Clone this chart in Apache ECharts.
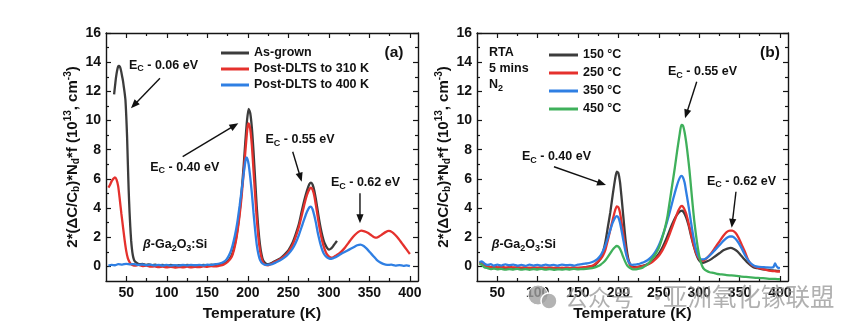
<!DOCTYPE html>
<html><head><meta charset="utf-8">
<script src="https://cdn.jsdelivr.net/npm/echarts@6/dist/echarts.min.js"></script>
<style>html,body{margin:0;padding:0;background:#fff}#c{width:865px;height:331px}</style>
</head><body><div id="c"></div>
<script>
// ---------- tick labels ----------
const xMajorTicks = [50,100,150,200,250,300,350,400];
const xMinorTicks = [75,125,175,225,275,325,375];
const yMajorTicks = [0,2,4,6,8,10,12,14,16];
const yMinorTicks = [1,3,5,7,9,11,13,15];

// ---------- panel (a) series names ----------
const namesA = ['As-grown','Post-DLTS to 310 K','Post-DLTS to 400 K'];
// ---------- panel (b) series names ----------
const namesB = ['150 °C','250 °C','350 °C','450 °C'];

// ---------- panel (a) data: [T (K), signal] ----------
const asGrown = [[35,11.8],[36,12.3],[37,12.8],[38,13.2],[39,13.5],[40,13.7],[41,13.75],[42,13.7],[43,13.55],[44,13.3],[45,13.0],[46,12.7],[47,12.3],[48,11.9],[49,11.4],[50,10.3],[51,8.9],[52,7.0],[53,5.2],[54,3.8],[55,2.7],[56,1.8],[57,1.2],[58,0.8],[59,0.55],[60,0.4],[62,0.28],[64,0.2],[67,0.15],[70,0.18],[74,0.1],[78,0.14],[82,0.08],[86,0.12],[90,0.06],[95,0.1],[100,0.05],[105,0.1],[110,0.04],[115,0.08],[120,0.05],[125,0.1],[130,0.06],[135,0.09],[140,0.05],[145,0.1],[150,0.07],[155,0.12],[160,0.1],[165,0.15],[170,0.2],[175,0.35],[180,0.75],[183,1.3],[186,2.1],[189,3.3],[192,4.9],[195,7.0],[197,8.6],[199,10.0],[201,10.8],[203,10.5],[205,9.5],[207,7.9],[209,6.0],[211,4.1],[213,2.6],[215,1.5],[217,0.8],[219,0.4],[222,0.2],[225,0.15],[230,0.25],[235,0.4],[240,0.55],[245,0.8],[250,1.1],[255,1.6],[259,2.2],[263,2.9],[267,3.9],[270,4.6],[273,5.2],[276,5.65],[278,5.75],[280,5.6],[282,5.2],[284,4.6],[286,3.9],[288,3.2],[290,2.6],[292,2.1],[294,1.7],[296,1.45],[298,1.25],[300,1.15],[302,1.2],[304,1.3],[306,1.45],[308,1.6],[310,1.75]];
const postDlts310 = [[28,5.4],[30,5.6],[32,5.85],[34,6.0],[36,6.1],[38,5.95],[40,5.5],[42,4.6],[44,3.6],[46,2.7],[48,1.8],[50,1.05],[52,0.55],[54,0.3],[56,0.15],[58,0.08],[61,0.05],[65,0.1],[70,0.02],[75,0.06],[80,-0.02],[85,0.0],[90,-0.05],[95,-0.02],[100,-0.06],[105,-0.03],[110,-0.08],[115,-0.04],[120,-0.07],[125,-0.02],[130,-0.06],[135,-0.03],[140,-0.05],[145,0.0],[150,-0.03],[155,0.02],[160,0.0],[165,0.05],[170,0.12],[175,0.3],[180,0.65],[183,1.15],[186,1.95],[189,3.1],[192,4.6],[195,6.5],[197,7.9],[199,9.2],[200,9.7],[201,9.8],[203,9.4],[205,8.3],[207,6.6],[209,4.9],[211,3.3],[213,2.0],[215,1.1],[217,0.55],[219,0.25],[222,0.1],[225,0.08],[230,0.2],[235,0.35],[240,0.5],[245,0.7],[250,1.0],[255,1.45],[259,2.0],[263,2.7],[267,3.6],[270,4.3],[273,4.9],[276,5.3],[278,5.4],[280,5.25],[282,4.85],[284,4.2],[286,3.5],[288,2.8],[290,2.2],[292,1.7],[294,1.3],[296,1.0],[298,0.8],[300,0.68],[303,0.6],[306,0.65],[309,0.75],[312,0.85],[316,1.05],[320,1.3],[324,1.6],[328,1.9],[332,2.15],[336,2.35],[340,2.45],[344,2.4],[348,2.3],[352,2.15],[356,2.0],[359,1.97],[362,2.05],[366,2.2],[370,2.35],[374,2.43],[378,2.35],[382,2.15],[386,1.9],[390,1.6],[394,1.3],[398,1.0],[400,0.85]];
const postDlts400 = [[28,0.05],[32,0.1],[36,0.08],[40,0.15],[45,0.12],[50,0.18],[55,0.14],[60,0.16],[65,0.1],[70,0.13],[75,0.08],[80,0.12],[85,0.07],[90,0.1],[95,0.06],[100,0.1],[105,0.05],[110,0.09],[115,0.06],[120,0.1],[125,0.07],[130,0.11],[135,0.08],[140,0.1],[145,0.07],[150,0.12],[155,0.1],[160,0.15],[165,0.2],[170,0.3],[174,0.5],[178,0.9],[181,1.4],[184,2.1],[187,3.0],[190,4.2],[193,5.5],[195,6.4],[197,7.2],[198,7.45],[199,7.45],[201,7.0],[203,6.1],[205,5.0],[207,3.7],[209,2.5],[211,1.5],[213,0.85],[215,0.45],[218,0.2],[222,0.1],[226,0.12],[230,0.15],[235,0.28],[240,0.42],[245,0.6],[250,0.85],[255,1.2],[259,1.6],[263,2.15],[267,2.8],[270,3.3],[273,3.75],[276,4.05],[278,4.1],[280,3.9],[282,3.5],[284,3.0],[286,2.4],[288,1.9],[290,1.45],[292,1.1],[294,0.85],[297,0.65],[300,0.55],[303,0.52],[306,0.58],[310,0.68],[315,0.85],[320,1.0],[325,1.15],[330,1.3],[335,1.45],[339,1.5],[343,1.4],[347,1.2],[351,0.95],[355,0.7],[359,0.45],[363,0.28],[367,0.17],[372,0.1],[377,0.12],[382,0.06],[387,0.09],[392,0.04],[396,0.07],[400,0.02]];

// ---------- panel (b) data: [T (K), signal] ----------
const rta150 = [[28,0.25],[31,0.3],[34,0.15],[38,0.0],[42,-0.05],[46,-0.1],[50,-0.08],[55,-0.12],[60,-0.1],[65,-0.14],[70,-0.1],[75,-0.15],[80,-0.12],[85,-0.15],[90,-0.1],[95,-0.14],[100,-0.12],[105,-0.15],[110,-0.1],[115,-0.14],[120,-0.12],[125,-0.15],[130,-0.11],[135,-0.14],[140,-0.12],[145,-0.15],[150,-0.1],[155,-0.12],[160,-0.05],[165,0.0],[170,0.05],[174,0.25],[178,0.55],[181,1.0],[184,1.7],[187,2.7],[190,3.7],[193,4.9],[196,6.0],[198,6.5],[200,6.4],[202,5.8],[204,4.7],[206,3.5],[208,2.3],[210,1.3],[212,0.6],[214,0.2],[216,0.0],[219,-0.05],[223,-0.05],[227,0.0],[231,0.05],[235,0.12],[239,0.25],[243,0.42],[247,0.65],[251,0.95],[255,1.35],[259,1.85],[263,2.4],[267,2.95],[271,3.4],[274,3.65],[277,3.8],[279,3.82],[281,3.7],[284,3.35],[287,2.8],[290,2.1],[293,1.45],[296,0.9],[299,0.5],[302,0.3],[305,0.25],[310,0.35],[315,0.5],[320,0.7],[325,0.9],[330,1.1],[335,1.22],[339,1.27],[343,1.2],[347,1.05],[351,0.8],[355,0.55],[359,0.3],[363,0.1],[367,-0.05],[372,-0.12],[377,-0.18],[382,-0.22],[387,-0.25],[392,-0.28],[396,-0.3],[400,-0.32]];
const rta250 = [[28,0.2],[31,0.25],[34,0.1],[38,0.0],[42,-0.05],[46,-0.02],[50,-0.06],[55,-0.03],[60,-0.08],[65,-0.04],[70,-0.07],[75,-0.05],[80,-0.09],[85,-0.06],[90,-0.1],[95,-0.07],[100,-0.09],[105,-0.06],[110,-0.1],[115,-0.07],[120,-0.1],[125,-0.08],[130,-0.11],[135,-0.08],[140,-0.1],[145,-0.07],[150,-0.1],[155,-0.06],[160,-0.05],[165,0.0],[170,0.12],[174,0.3],[178,0.5],[181,0.75],[184,1.15],[187,1.8],[190,2.5],[193,3.2],[196,3.85],[198,4.12],[200,4.05],[202,3.7],[204,3.0],[206,2.3],[208,1.55],[210,0.9],[212,0.45],[214,0.15],[216,0.0],[219,-0.08],[223,-0.05],[227,-0.02],[231,0.03],[235,0.1],[239,0.2],[243,0.35],[247,0.55],[251,0.8],[255,1.15],[259,1.6],[263,2.15],[267,2.75],[271,3.35],[274,3.8],[277,4.1],[279,4.15],[281,4.0],[284,3.6],[287,2.95],[290,2.2],[293,1.5],[296,0.95],[299,0.6],[302,0.42],[305,0.4],[310,0.6],[315,0.9],[320,1.3],[325,1.7],[330,2.1],[334,2.35],[338,2.45],[341,2.45],[345,2.3],[349,1.95],[353,1.45],[357,0.95],[361,0.4],[365,0.1],[369,-0.02],[374,-0.12],[379,-0.18],[384,-0.25],[389,-0.3],[394,-0.33],[398,-0.35],[400,-0.35]];
const rta350 = [[28,0.3],[31,0.35],[34,0.2],[38,0.1],[42,0.15],[46,0.05],[50,0.12],[55,0.06],[60,0.14],[65,0.08],[70,0.12],[75,0.05],[80,0.1],[85,0.04],[90,0.12],[95,0.06],[100,0.1],[105,0.05],[110,0.12],[115,0.07],[120,0.1],[125,0.05],[130,0.12],[135,0.08],[140,0.1],[145,0.06],[150,0.12],[155,0.15],[160,0.2],[165,0.25],[170,0.35],[174,0.5],[178,0.75],[181,1.05],[184,1.45],[187,1.95],[190,2.5],[193,3.0],[196,3.35],[198,3.45],[200,3.35],[202,3.0],[204,2.45],[206,1.85],[208,1.25],[210,0.75],[212,0.4],[214,0.2],[217,0.1],[220,0.12],[224,0.15],[228,0.22],[232,0.3],[236,0.42],[240,0.6],[244,0.85],[248,1.2],[252,1.7],[256,2.3],[260,3.0],[264,3.8],[268,4.65],[272,5.45],[275,5.95],[278,6.2],[280,6.1],[282,5.75],[284,5.1],[287,4.1],[290,3.0],[293,2.0],[296,1.2],[299,0.7],[302,0.5],[305,0.48],[310,0.6],[315,0.85],[320,1.15],[325,1.45],[330,1.75],[334,1.95],[338,2.05],[341,2.05],[345,1.9],[349,1.6],[353,1.2],[357,0.75],[361,0.4],[365,0.15],[369,0.02],[374,-0.03],[379,-0.05],[384,-0.07],[389,-0.08],[392,-0.05],[394,0.2],[396,0.0],[398,-0.1],[400,-0.12]];
const rta450 = [[28,0.2],[31,0.1],[34,-0.05],[38,-0.12],[42,-0.18],[46,-0.15],[50,-0.2],[55,-0.17],[60,-0.22],[65,-0.18],[70,-0.21],[75,-0.17],[80,-0.22],[85,-0.19],[90,-0.23],[95,-0.18],[100,-0.21],[105,-0.17],[110,-0.22],[115,-0.19],[120,-0.23],[125,-0.2],[130,-0.22],[135,-0.18],[140,-0.21],[145,-0.17],[150,-0.2],[155,-0.18],[160,-0.17],[165,-0.14],[170,-0.08],[174,0.0],[178,0.12],[181,0.25],[184,0.42],[187,0.65],[190,0.9],[193,1.15],[196,1.33],[198,1.4],[200,1.35],[202,1.2],[204,0.95],[206,0.65],[208,0.38],[210,0.15],[212,0.0],[215,-0.12],[218,-0.2],[222,-0.2],[226,-0.15],[230,-0.08],[234,0.05],[238,0.25],[242,0.55],[246,0.85],[250,1.25],[254,1.9],[258,2.7],[261,3.5],[264,4.6],[267,5.7],[270,6.8],[273,8.0],[276,9.1],[278,9.7],[280,9.65],[282,9.2],[284,8.5],[286,7.6],[288,6.6],[290,5.4],[292,4.2],[294,3.1],[296,2.2],[298,1.4],[300,0.75],[302,0.3],[304,0.0],[306,-0.18],[309,-0.3],[313,-0.4],[318,-0.45],[323,-0.52],[328,-0.55],[334,-0.6],[340,-0.62],[346,-0.65],[352,-0.7],[358,-0.72],[364,-0.75],[370,-0.78],[376,-0.8],[382,-0.82],[388,-0.85],[394,-0.86],[400,-0.88]];

// ---------- styling ----------
const FONT = '"Liberation Sans", Arial, sans-serif';
const AX = '#151515';
const COL_BLACK = '#3c3c3c', COL_RED = '#e5312d', COL_BLUE = '#2f7fe3', COL_GREEN = '#3fb05b';

const yName = '2*(ΔC/C{sub|b})*N{sub|d}*f (10{sup|13}, cm{sup|-3})';
const yNameStyle = {
  color: '#111', fontSize: 15, fontWeight: 'bold', fontFamily: FONT,
  rich: {
    sub: {fontSize: 10, fontWeight: 'bold', fontFamily: FONT, color: '#111', padding: [8,0,0,0]},
    sup: {fontSize: 10, fontWeight: 'bold', fontFamily: FONT, color: '#111', padding: [0,0,9,0]}
  }
};

function xAx(grid, pos, main, ticks, len) {
  const lab = main && pos === 'bottom';
  return {
    type: 'value', gridIndex: grid, position: pos, min: 25, max: 410,
    axisLine: {show: main, onZero: false, lineStyle: {color: AX, width: 1.4}},
    axisTick: {show: true, inside: true, length: len, customValues: ticks, lineStyle: {color: AX, width: 1.2}},
    axisLabel: {show: lab, customValues: xMajorTicks, margin: 5, color: '#111', fontSize: 14, fontWeight: 'bold', fontFamily: FONT},
    splitLine: {show: false},
    name: lab ? 'Temperature (K)' : '', nameLocation: 'middle', nameGap: 25,
    nameTextStyle: {color: '#111', fontSize: 15.5, fontWeight: 'bold', fontFamily: FONT}
  };
}
function yAx(grid, pos, main, ticks, len) {
  const lab = main && pos === 'left';
  return {
    type: 'value', gridIndex: grid, position: pos, min: -1, max: 16,
    axisLine: {show: main, onZero: false, lineStyle: {color: AX, width: 1.4}},
    axisTick: {show: true, inside: true, length: len, customValues: ticks, lineStyle: {color: AX, width: 1.2}},
    axisLabel: {show: lab, customValues: yMajorTicks, margin: 5, color: '#111', fontSize: 14, fontWeight: 'bold', fontFamily: FONT},
    splitLine: {show: false},
    name: lab ? yName : '', nameLocation: 'middle', nameGap: 23, nameRotate: 90,
    nameTextStyle: yNameStyle
  };
}
const xAxes = [], yAxes = [];
[0,1].forEach(g => {
  xAxes.push(xAx(g,'bottom',true,xMajorTicks,5), xAx(g,'bottom',false,xMinorTicks,3),
             xAx(g,'top',true,xMajorTicks,5), xAx(g,'top',false,xMinorTicks,3));
  yAxes.push(yAx(g,'left',true,yMajorTicks,5), yAx(g,'left',false,yMinorTicks,3),
             yAx(g,'right',true,yMajorTicks,5), yAx(g,'right',false,yMinorTicks,3));
});

function line(name, data, color, g) {
  return {
    name, type: 'line', data, xAxisIndex: g*4, yAxisIndex: g*4,
    showSymbol: false, symbol: 'none', smooth: 0.2,
    lineStyle: {color, width: 2.3}, itemStyle: {color}, emphasis: {disabled: true}
  };
}

const legendText = {color: '#111', fontSize: 12.5, fontWeight: 'bold', fontFamily: FONT, lineHeight: 14};

const chart = echarts.init(document.getElementById('c'), null, {renderer: 'canvas'});
chart.setOption({
  animation: false,
  backgroundColor: '#fff',
  grid: [
    {left: 106, right: 447, top: 33, bottom: 50},
    {left: 477, right: 77, top: 33, bottom: 50}
  ],
  xAxis: xAxes,
  yAxis: yAxes,
  legend: [
    {data: namesA, orient: 'vertical', left: 221, top: 46, itemWidth: 28, itemHeight: 3, itemGap: 2, icon: 'rect', selectedMode: false, textStyle: legendText, padding: 0},
    {data: namesB, orient: 'vertical', left: 549, top: 48, itemWidth: 29, itemHeight: 3, itemGap: 4, icon: 'rect', selectedMode: false, textStyle: legendText, padding: 0}
  ],
  series: [
    line(namesA[0], asGrown, COL_BLACK, 0),
    line(namesA[1], postDlts310, COL_RED, 0),
    line(namesA[2], postDlts400, COL_BLUE, 0),
    line(namesB[0], rta150, COL_BLACK, 1),
    line(namesB[1], rta250, COL_RED, 1),
    line(namesB[2], rta350, COL_BLUE, 1),
    line(namesB[3], rta450, COL_GREEN, 1)
  ]
});

// ---------- annotations (anchored in data coordinates) ----------
const richLbl = {
  s: {fontSize: 9, fontWeight: 'bold', fontFamily: FONT, fill: '#111', padding: [7,0,0,0]},
  i: {fontSize: 12.5, fontWeight: 'bold', fontStyle: 'italic', fontFamily: FONT, fill: '#111'}
};
const annTexts = [
  {g:0, at:[95.9,13.8], t:'E{s|C} - 0.06 eV', align:'center'},
  {g:0, at:[122.2,6.8], t:'E{s|C} - 0.40 eV', align:'center'},
  {g:0, at:[264.4,8.67], t:'E{s|C} - 0.55 eV', align:'center'},
  {g:0, at:[345.2,5.72], t:'E{s|C} - 0.62 eV', align:'center'},
  {g:0, at:[380.4,14.63], t:'(a)', align:'center', size:15.5},
  {g:0, at:[70.7,1.47], t:'{i|β}-Ga{s|2}O{s|3}:Si', align:'left'},
  {g:1, at:[304.2,13.33], t:'E{s|C} - 0.55 eV', align:'center'},
  {g:1, at:[123.4,7.5], t:'E{s|C} - 0.40 eV', align:'center'},
  {g:1, at:[352.4,5.85], t:'E{s|C} - 0.62 eV', align:'center'},
  {g:1, at:[387.7,14.63], t:'(b)', align:'center', size:15.5},
  {g:1, at:[39.9,14.63], t:'RTA', align:'left'},
  {g:1, at:[39.9,13.53], t:'5 mins', align:'left'},
  {g:1, at:[39.9,12.44], t:'N{s|2}', align:'left'},
  {g:1, at:[43.2,1.47], t:'{i|β}-Ga{s|2}O{s|3}:Si', align:'left'}
];
const annArrows = [
  {g:0, from:[91.6,12.9], to:[55.8,10.84]},
  {g:0, from:[119.6,7.52], to:[188.3,9.81]},
  {g:0, from:[255.4,7.86], to:[266.5,5.81]},
  {g:0, from:[338.4,5.01], to:[338.4,2.96]},
  {g:1, from:[297,12.66], to:[282.5,10.15]},
  {g:1, from:[120.3,6.83], to:[184.7,5.58]},
  {g:1, from:[345.6,5.12], to:[340.3,2.65]}
];
function toPx(g, p) { return chart.convertToPixel({xAxisIndex: g*4, yAxisIndex: g*4}, p); }
const graphics = [];
annTexts.forEach(a => {
  const p = toPx(a.g, a.at);
  graphics.push({type:'text', x:p[0], y:p[1], z:50, style:{
    text:a.t, fill:'#111', fontSize:a.size||12.5, fontWeight:'bold', fontFamily:FONT,
    align:a.align, verticalAlign:'middle', rich:richLbl}});
});
annArrows.forEach(a => {
  const p1 = toPx(a.g, a.from), p2 = toPx(a.g, a.to);
  const dx = p2[0]-p1[0], dy = p2[1]-p1[1], L = Math.hypot(dx,dy);
  const ux = dx/L, uy = dy/L, hl = 9, hw = 3.6;
  const bx = p2[0]-ux*hl, by = p2[1]-uy*hl;
  graphics.push({type:'line', z:50, shape:{x1:p1[0],y1:p1[1],x2:bx+ux*1,y2:by+uy*1}, style:{stroke:'#111', lineWidth:1.4}});
  graphics.push({type:'polygon', z:50, shape:{points:[[p2[0],p2[1]],[bx-uy*hw,by+ux*hw],[bx+uy*hw,by-ux*hw]]}, style:{fill:'#111'}});
});
// watermark
graphics.push({type:'circle', z:60, shape:{cx:538, cy:295, r:10}, style:{fill:'rgba(160,160,160,0.8)', stroke:'#fff', lineWidth:1}});
graphics.push({type:'circle', z:61, shape:{cx:549, cy:301, r:8}, style:{fill:'rgba(160,160,160,0.8)', stroke:'#fff', lineWidth:1.5}});
graphics.push({type:'text', z:60, x:565, y:297, style:{text:'公众号', fill:'rgba(150,150,150,0.75)', fontSize:23, fontFamily:'"Noto Sans CJK SC", sans-serif', verticalAlign:'middle'}});
graphics.push({type:'text', z:60, x:646, y:297, style:{text:'·', fill:'rgba(150,150,150,0.75)', fontSize:23, fontFamily:'"Noto Sans CJK SC", sans-serif', verticalAlign:'middle'}});
graphics.push({type:'text', z:60, x:663, y:297, style:{text:'亚洲氧化镓联盟', fill:'rgba(150,150,150,0.75)', fontSize:24.5, fontFamily:'"Noto Sans CJK SC", sans-serif', verticalAlign:'middle'}});
chart.setOption({graphic: graphics});
</script>
</body></html>
